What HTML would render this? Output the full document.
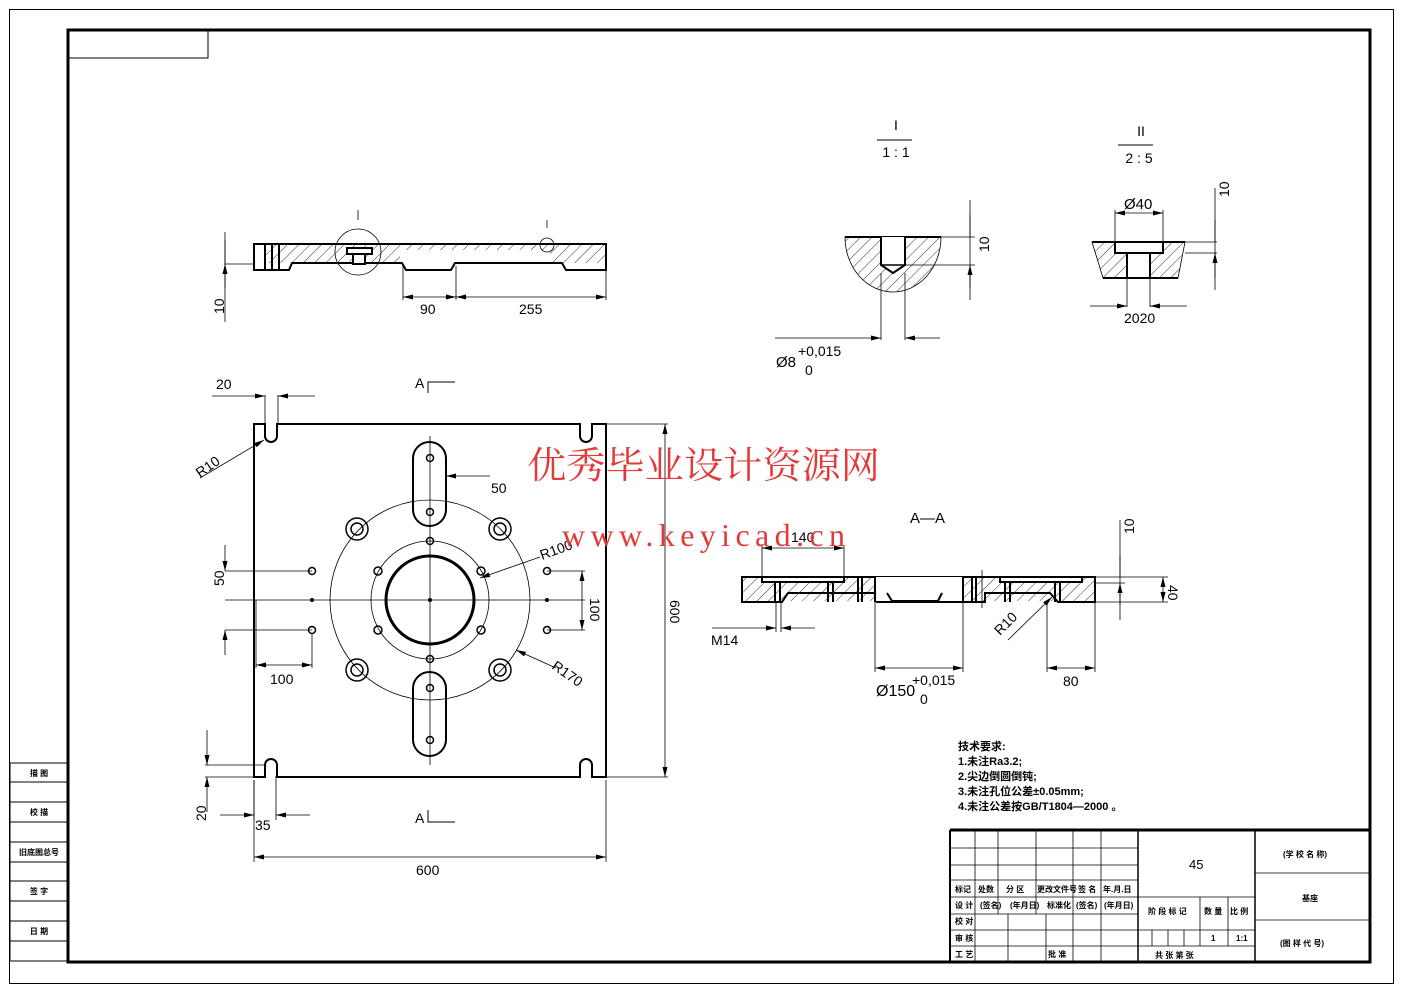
<!DOCTYPE html>
<html><head><meta charset="utf-8"><style>
html,body{margin:0;padding:0;background:#fff;}
svg{display:block;}
text{font-family:"Liberation Sans","Noto Sans CJK SC",sans-serif;fill:#000;}
</style></head><body>
<svg width="1403" height="992" viewBox="0 0 1403 992" xmlns="http://www.w3.org/2000/svg">
<defs>
<pattern id="h" width="8" height="8" patternUnits="userSpaceOnUse" patternTransform="rotate(45)">
<line x1="0" y1="0" x2="0" y2="8" stroke="#000" stroke-width="0.8"/></pattern>
<marker id="a" viewBox="0 0 12 6" refX="12" refY="3" markerWidth="13" markerHeight="5" markerUnits="userSpaceOnUse" orient="auto-start-reverse"><path d="M0,0 L12,3 L0,6z" fill="#000"/></marker>
</defs>
<rect x="9.5" y="9.5" width="1384" height="974" fill="none" stroke="#000"/>
<rect x="68" y="30" width="1302" height="932" fill="none" stroke="#000" stroke-width="3"/>
<rect x="68" y="30" width="140" height="28" fill="none" stroke="#000"/>
<g stroke="#000" fill="none">
<rect x="10" y="763" width="57" height="198"/>
<line x1="10" y1="782" x2="67" y2="782"/><line x1="10" y1="802" x2="67" y2="802"/><line x1="10" y1="822" x2="67" y2="822"/><line x1="10" y1="842" x2="67" y2="842"/><line x1="10" y1="862" x2="67" y2="862"/><line x1="10" y1="881" x2="67" y2="881"/><line x1="10" y1="901" x2="67" y2="901"/><line x1="10" y1="921" x2="67" y2="921"/><line x1="10" y1="941" x2="67" y2="941"/>
</g>
<g font-size="8" text-anchor="middle" font-weight="bold">
<text x="39" y="776">描 图</text><text x="39" y="815">校 描</text><text x="39" y="855">旧底图总号</text><text x="39" y="894">签 字</text><text x="39" y="934">日 期</text>
</g>

<!-- top section view -->
<g stroke="#000" fill="none" stroke-width="2">
<rect x="265" y="244" width="340" height="19" fill="url(#h)" stroke="none"/>
<rect x="400" y="250" width="150" height="14" fill="#fff" stroke="none"/>
<path d="M254,244 H606 V270 H566 L562,263 H455 L451,270 H406 L402,263 H292 L289,270 H254 Z"/>
<line x1="265" y1="244" x2="265" y2="270"/><line x1="272" y1="244" x2="272" y2="270"/><line x1="279" y1="244" x2="279" y2="270"/>
<rect x="347" y="248" width="25" height="6" fill="#fff"/><rect x="353" y="254" width="12" height="10" fill="#fff"/>
</g>
<g stroke="#000" fill="none" stroke-width="0.8">
<circle cx="358" cy="252" r="23"/><circle cx="547" cy="245" r="7"/>
<line x1="225" y1="232" x2="225" y2="322"/>
<path d="M225,240 V264 M225,288 V264" marker-end="url(#a)"/>
<line x1="225" y1="264" x2="254" y2="264"/>
<line x1="403" y1="266" x2="403" y2="300"/><line x1="456" y1="266" x2="456" y2="300"/><line x1="606" y1="270" x2="606" y2="300"/>
<line x1="403" y1="297" x2="456" y2="297" marker-start="url(#a)" marker-end="url(#a)"/>
<line x1="456" y1="297" x2="606" y2="297" marker-start="url(#a)" marker-end="url(#a)"/>
<line x1="358" y1="210" x2="358" y2="220"/><line x1="547" y1="220" x2="547" y2="228"/>
</g>
<g font-size="14"><text x="420" y="314">90</text><text x="519" y="314">255</text>
<text x="218" y="320" transform="rotate(-90 218 314)">10</text></g>

<!-- Detail I -->
<g font-size="14" text-anchor="middle"><text x="896" y="130">I</text><text x="896" y="157">1 : 1</text><text x="1141" y="136">II</text><text x="1139" y="163">2 : 5</text></g>
<line x1="877" y1="140" x2="912" y2="140" stroke="#000"/><line x1="1118" y1="145" x2="1153" y2="145" stroke="#000"/>
<path d="M845,237 H941 A48,55 0 0 1 845,237 Z" fill="url(#h)" stroke="#000" stroke-width="0.8"/>
<line x1="845" y1="237" x2="941" y2="237" stroke="#000" stroke-width="2"/>
<path d="M881,237 V265 L893,273 L905,265 V237" fill="#fff" stroke="#000" stroke-width="2"/>
<line x1="881" y1="265" x2="905" y2="265" stroke="#000" stroke-width="1.5"/>
<g stroke="#000" stroke-width="0.8" fill="none">
<line x1="941" y1="237" x2="975" y2="237"/><line x1="905" y1="265" x2="975" y2="265"/>
<line x1="970" y1="200" x2="970" y2="300"/><path d="M970,215 V237 M970,288 V265" marker-end="url(#a)"/>
<line x1="881" y1="273" x2="881" y2="340"/><line x1="905" y1="273" x2="905" y2="340"/>
<line x1="775" y1="338" x2="881" y2="338" marker-end="url(#a)"/><line x1="940" y1="338" x2="905" y2="338" marker-end="url(#a)"/>
</g>
<text x="983" y="258" font-size="14" transform="rotate(-90 983 252)">10</text>
<text x="776" y="367" font-size="15">Ø8</text><text x="798" y="356" font-size="14">+0,015</text><text x="805" y="375" font-size="14">0</text>

<!-- Detail II -->
<path d="M1092,242 H1185 L1178,278 H1103 Z" fill="url(#h)" stroke="#000" stroke-width="0.8"/>
<g stroke="#000" stroke-width="2" fill="#fff">
<line x1="1092" y1="242" x2="1185" y2="242"/><line x1="1103" y1="278" x2="1178" y2="278"/>
<rect x="1115" y="242" width="48" height="11"/><rect x="1127" y="253" width="23" height="25"/></g>
<g stroke="#000" stroke-width="0.8" fill="none">
<line x1="1115" y1="242" x2="1115" y2="210"/><line x1="1163" y1="242" x2="1163" y2="210"/>
<line x1="1115" y1="213" x2="1163" y2="213" marker-start="url(#a)" marker-end="url(#a)"/>
<line x1="1185" y1="253" x2="1217" y2="253"/><line x1="1185" y1="242" x2="1217" y2="242"/>
<line x1="1215" y1="188" x2="1215" y2="290"/><path d="M1215,220 V242 M1215,278 V253" marker-end="url(#a)"/>
<line x1="1127" y1="278" x2="1127" y2="307"/><line x1="1150" y1="278" x2="1150" y2="307"/>
<line x1="1090" y1="306" x2="1127" y2="306" marker-end="url(#a)"/><line x1="1187" y1="306" x2="1150" y2="306" marker-end="url(#a)"/>
</g>
<text x="1124" y="209" font-size="15">Ø40</text><text x="1124" y="323" font-size="14">2020</text>
<text x="1223" y="203" font-size="14" transform="rotate(-90 1223 197)">10</text>

<!-- plan view -->
<g stroke="#000" fill="none">
<path d="M254,424 H265 V436 A6,6 0 0 0 277,436 V424 H580 V436 A6,6 0 0 0 592,436 V424 H606 V777 H592 V765 A6,6 0 0 0 580,765 V777 H277 V765 A6,6 0 0 0 265,765 V777 H254 Z" stroke-width="2"/>
<circle cx="430" cy="600" r="44" stroke-width="3"/>
<circle cx="430" cy="600" r="59" stroke-width="0.8"/>
<circle cx="430" cy="600" r="100" stroke-width="0.8"/>
<rect x="413" y="442" width="33" height="84" rx="16.5" stroke-width="2"/>
<rect x="413" y="672" width="33" height="84" rx="16.5" stroke-width="2"/>
<g stroke-width="0.8"><line x1="225" y1="600" x2="585" y2="600"/><line x1="430" y1="436" x2="430" y2="765"/></g>
<g stroke-width="1.5">
<circle cx="357" cy="529" r="11"/><circle cx="357" cy="529" r="6"/>
<circle cx="500" cy="529" r="11"/><circle cx="500" cy="529" r="6"/>
<circle cx="357" cy="670" r="11"/><circle cx="357" cy="670" r="6"/>
<circle cx="500" cy="670" r="11"/><circle cx="500" cy="670" r="6"/>
<circle cx="378" cy="571" r="4"/><circle cx="481" cy="571" r="4"/><circle cx="378" cy="630" r="4"/><circle cx="481" cy="630" r="4"/>
<circle cx="312" cy="571" r="3.5"/><circle cx="312" cy="630" r="3.5"/><circle cx="547" cy="571" r="3.5"/><circle cx="547" cy="630" r="3.5"/>
<circle cx="430" cy="458" r="3.5"/><circle cx="430" cy="512" r="3.5"/><circle cx="430" cy="541" r="3.5"/><circle cx="430" cy="659" r="3.5"/><circle cx="430" cy="688" r="3.5"/><circle cx="430" cy="740" r="3.5"/>
</g>
<g fill="#000" stroke="none"><circle cx="312" cy="600" r="2"/><circle cx="547" cy="600" r="2"/><circle cx="430" cy="600" r="2"/></g>
</g>
<g stroke="#000" stroke-width="0.8" fill="none">
<line x1="606" y1="424" x2="668" y2="424"/><line x1="606" y1="777" x2="668" y2="777"/>
<line x1="665" y1="424" x2="665" y2="777" marker-start="url(#a)" marker-end="url(#a)"/>
<line x1="254" y1="780" x2="254" y2="862"/><line x1="606" y1="780" x2="606" y2="862"/>
<line x1="254" y1="857" x2="606" y2="857" marker-start="url(#a)" marker-end="url(#a)"/>
<line x1="265" y1="395" x2="265" y2="424"/><line x1="278" y1="395" x2="278" y2="424"/>
<line x1="212" y1="396" x2="265" y2="396" marker-end="url(#a)"/><line x1="315" y1="396" x2="278" y2="396" marker-end="url(#a)"/>
<line x1="200" y1="478" x2="264" y2="440" marker-end="url(#a)"/>
<line x1="446" y1="476" x2="490" y2="476" marker-start="url(#a)"/>
<line x1="225" y1="571" x2="312" y2="571"/><line x1="225" y1="630" x2="312" y2="630"/>
<line x1="225" y1="545" x2="225" y2="571" marker-end="url(#a)"/><line x1="225" y1="655" x2="225" y2="630" marker-end="url(#a)"/>
<line x1="547" y1="571" x2="585" y2="571"/><line x1="547" y1="630" x2="585" y2="630"/>
<line x1="582" y1="571" x2="582" y2="630" marker-start="url(#a)" marker-end="url(#a)"/>
<line x1="256" y1="600" x2="256" y2="668"/><line x1="312" y1="634" x2="312" y2="668"/>
<line x1="256" y1="665" x2="312" y2="665" marker-start="url(#a)" marker-end="url(#a)"/>
<line x1="540" y1="557" x2="480" y2="578" marker-end="url(#a)"/>
<line x1="556" y1="668" x2="516" y2="650" marker-end="url(#a)"/>
<line x1="205" y1="765" x2="265" y2="765"/><line x1="205" y1="777" x2="254" y2="777"/>
<line x1="207" y1="730" x2="207" y2="765" marker-end="url(#a)"/><line x1="207" y1="812" x2="207" y2="777" marker-end="url(#a)"/>
<line x1="254" y1="780" x2="254" y2="820"/><line x1="276" y1="776" x2="276" y2="820"/>
<line x1="220" y1="815" x2="254" y2="815" marker-end="url(#a)"/><line x1="310" y1="815" x2="276" y2="815" marker-end="url(#a)"/>
</g>
<g stroke="#000" stroke-width="1" fill="none"><path d="M428,393 V382 H455"/><path d="M428,810 V822 H455"/></g>
<g font-size="14">
<text x="415" y="388">A</text><text x="415" y="823">A</text>
<text x="216" y="389">20</text><text x="200" y="478" transform="rotate(-35 200 478)">R10</text>
<text x="491" y="493">50</text><text x="542" y="560" transform="rotate(-20 542 560)">R100</text>
<text x="551" y="668" transform="rotate(35 551 668)">R170</text>
<text x="270" y="684">100</text><text x="255" y="830">35</text>
<text x="416" y="875">600</text>
<text x="218" y="592" transform="rotate(-90 218 586)">50</text>
<text x="590" y="598" transform="rotate(90 590 598)">100</text>
<text x="670" y="600" transform="rotate(90 670 600)">600</text>
<text x="200" y="827" transform="rotate(-90 200 821)">20</text>
</g>

<!-- section A-A -->
<text x="910" y="523" font-size="15">A—A</text>
<rect x="742" y="577" width="353" height="24" fill="url(#h)"/>
<g stroke="#000" stroke-width="2" fill="#fff">
<path d="M742,577 H1095 V602 H1058 L1050,593 H985 V602 H877 L875,593 H788 L782,602 H742 Z" fill="none"/>
<rect x="762" y="577" width="82" height="5"/><rect x="875" y="577" width="88" height="24" stroke="none"/>
<rect x="1000" y="577" width="82" height="5"/>
<path d="M887,593 L892,601 H938 L942,593" fill="none"/>
<line x1="875" y1="577" x2="875" y2="602"/><line x1="862" y1="577" x2="862" y2="602"/><line x1="858" y1="577" x2="858" y2="602"/>
<line x1="963" y1="577" x2="963" y2="602"/><line x1="972" y1="577" x2="972" y2="602"/><line x1="976" y1="577" x2="976" y2="602"/>
<line x1="775" y1="582" x2="775" y2="602"/><line x1="780" y1="582" x2="780" y2="602"/>
<line x1="828" y1="582" x2="828" y2="602"/><line x1="833" y1="582" x2="833" y2="602"/>
<line x1="1005" y1="582" x2="1005" y2="602"/><line x1="1010" y1="582" x2="1010" y2="602"/>
<line x1="1055" y1="582" x2="1055" y2="602"/><line x1="1060" y1="582" x2="1060" y2="602"/>
</g>
<g stroke="#000" stroke-width="0.8" fill="none">
<line x1="762" y1="577" x2="762" y2="545"/><line x1="844" y1="577" x2="844" y2="545"/>
<line x1="762" y1="548" x2="844" y2="548" marker-start="url(#a)" marker-end="url(#a)"/>
<line x1="776" y1="602" x2="776" y2="632"/><line x1="781" y1="602" x2="781" y2="632"/>
<line x1="712" y1="628" x2="776" y2="628" marker-end="url(#a)"/><line x1="815" y1="628" x2="781" y2="628" marker-end="url(#a)"/>
<line x1="875" y1="602" x2="875" y2="672"/><line x1="963" y1="602" x2="963" y2="672"/>
<line x1="875" y1="668" x2="963" y2="668" marker-start="url(#a)" marker-end="url(#a)"/>
<line x1="1047" y1="602" x2="1047" y2="672"/><line x1="1095" y1="602" x2="1095" y2="672"/>
<line x1="1047" y1="668" x2="1095" y2="668" marker-start="url(#a)" marker-end="url(#a)"/>
<line x1="1008" y1="640" x2="1052" y2="597" marker-end="url(#a)"/>
<line x1="1095" y1="577" x2="1168" y2="577"/><line x1="1095" y1="583" x2="1125" y2="583"/><line x1="1095" y1="602" x2="1168" y2="602"/>
<line x1="1120" y1="520" x2="1120" y2="620"/><path d="M1120,555 V577 M1120,605 V583" marker-end="url(#a)"/>
<line x1="1163" y1="577" x2="1163" y2="602" marker-start="url(#a)" marker-end="url(#a)"/>
<line x1="982" y1="570" x2="982" y2="608"/>
</g>
<g font-size="14">
<text x="791" y="542">140</text><text x="711" y="645">M14</text>
<text x="876" y="696" font-size="16">Ø150</text><text x="912" y="685">+0,015</text><text x="920" y="704">0</text>
<text x="1063" y="686">80</text>
<text x="1000" y="636" transform="rotate(-45 1000 636)">R10</text>
<text x="1128" y="540" transform="rotate(-90 1128 534)">10</text>
<text x="1168" y="585" transform="rotate(90 1168 585)">40</text>
</g>

<!-- watermark -->
<text x="527" y="478" font-size="37" textLength="353" lengthAdjust="spacingAndGlyphs" style="fill:#e23a3a;font-family:'Noto Serif CJK SC','Noto Sans CJK SC',serif">优秀毕业设计资源网</text>
<text x="562" y="546" font-size="32" textLength="283" lengthAdjust="spacing" style="fill:#e23a3a;font-family:'Liberation Serif',serif">www.keyicad.cn</text>

<!-- tech requirements -->
<g font-size="11" font-weight="bold">
<text x="958" y="750">技术要求:</text>
<text x="958" y="765">1.未注Ra3.2;</text>
<text x="958" y="780">2.尖边倒圆倒钝;</text>
<text x="958" y="795">3.未注孔位公差±0.05mm;</text>
<text x="958" y="810">4.未注公差按GB/T1804—2000 。</text>
</g>

<!-- title block -->
<g stroke="#000" fill="none" stroke-width="0.8">
<path d="M950,830 H1370" stroke-width="3"/><path d="M950,830 V962" stroke-width="2"/>
<line x1="1138" y1="830" x2="1138" y2="962" stroke-width="1.5"/><line x1="1255" y1="830" x2="1255" y2="962" stroke-width="1.5"/>
<line x1="950" y1="848" x2="1138" y2="848"/><line x1="950" y1="865" x2="1138" y2="865"/><line x1="950" y1="880" x2="1138" y2="880"/>
<line x1="950" y1="897" x2="1255" y2="897"/><line x1="950" y1="914" x2="1138" y2="914"/><line x1="950" y1="930" x2="1255" y2="930"/><line x1="950" y1="946" x2="1255" y2="946"/>
<line x1="975" y1="830" x2="975" y2="962"/><line x1="998" y1="830" x2="998" y2="914"/><line x1="1036" y1="830" x2="1036" y2="914"/><line x1="1073" y1="830" x2="1073" y2="962"/><line x1="1101" y1="830" x2="1101" y2="962"/>
<line x1="1008" y1="914" x2="1008" y2="962"/><line x1="1046" y1="914" x2="1046" y2="962"/>
<line x1="1200" y1="897" x2="1200" y2="946"/><line x1="1228" y1="897" x2="1228" y2="946"/>
<line x1="1152" y1="930" x2="1152" y2="946"/><line x1="1168" y1="930" x2="1168" y2="946"/><line x1="1184" y1="930" x2="1184" y2="946"/>
<line x1="1255" y1="873" x2="1370" y2="873"/><line x1="1255" y1="920" x2="1370" y2="920"/>
</g>
<g font-size="8" font-weight="bold">
<text x="955" y="892">标记</text><text x="978" y="892">处数</text><text x="1006" y="892">分 区</text><text x="1037" y="892">更改文件号</text><text x="1078" y="892">签 名</text><text x="1103" y="892">年.月.日</text>
<text x="955" y="908">设 计</text><text x="980" y="908">(签名)</text><text x="1010" y="908">(年月日)</text><text x="1047" y="908">标准化</text><text x="1076" y="908">(签名)</text><text x="1104" y="908">(年月日)</text>
<text x="955" y="924">校 对</text><text x="955" y="941">审 核</text><text x="955" y="957">工 艺</text><text x="1048" y="957">批 准</text>
<text x="1148" y="914">阶 段 标 记</text><text x="1204" y="914">数 量</text><text x="1230" y="914">比 例</text>
<text x="1211" y="941">1</text><text x="1236" y="941">1:1</text>
<text x="1155" y="958">共    张  第    张</text>
<text x="1283" y="857">(学 校 名 称)</text><text x="1302" y="901">基座</text><text x="1280" y="946">(图 样 代 号)</text>
</g>
<text x="1189" y="869" font-size="13">45</text>
</svg>
</body></html>
